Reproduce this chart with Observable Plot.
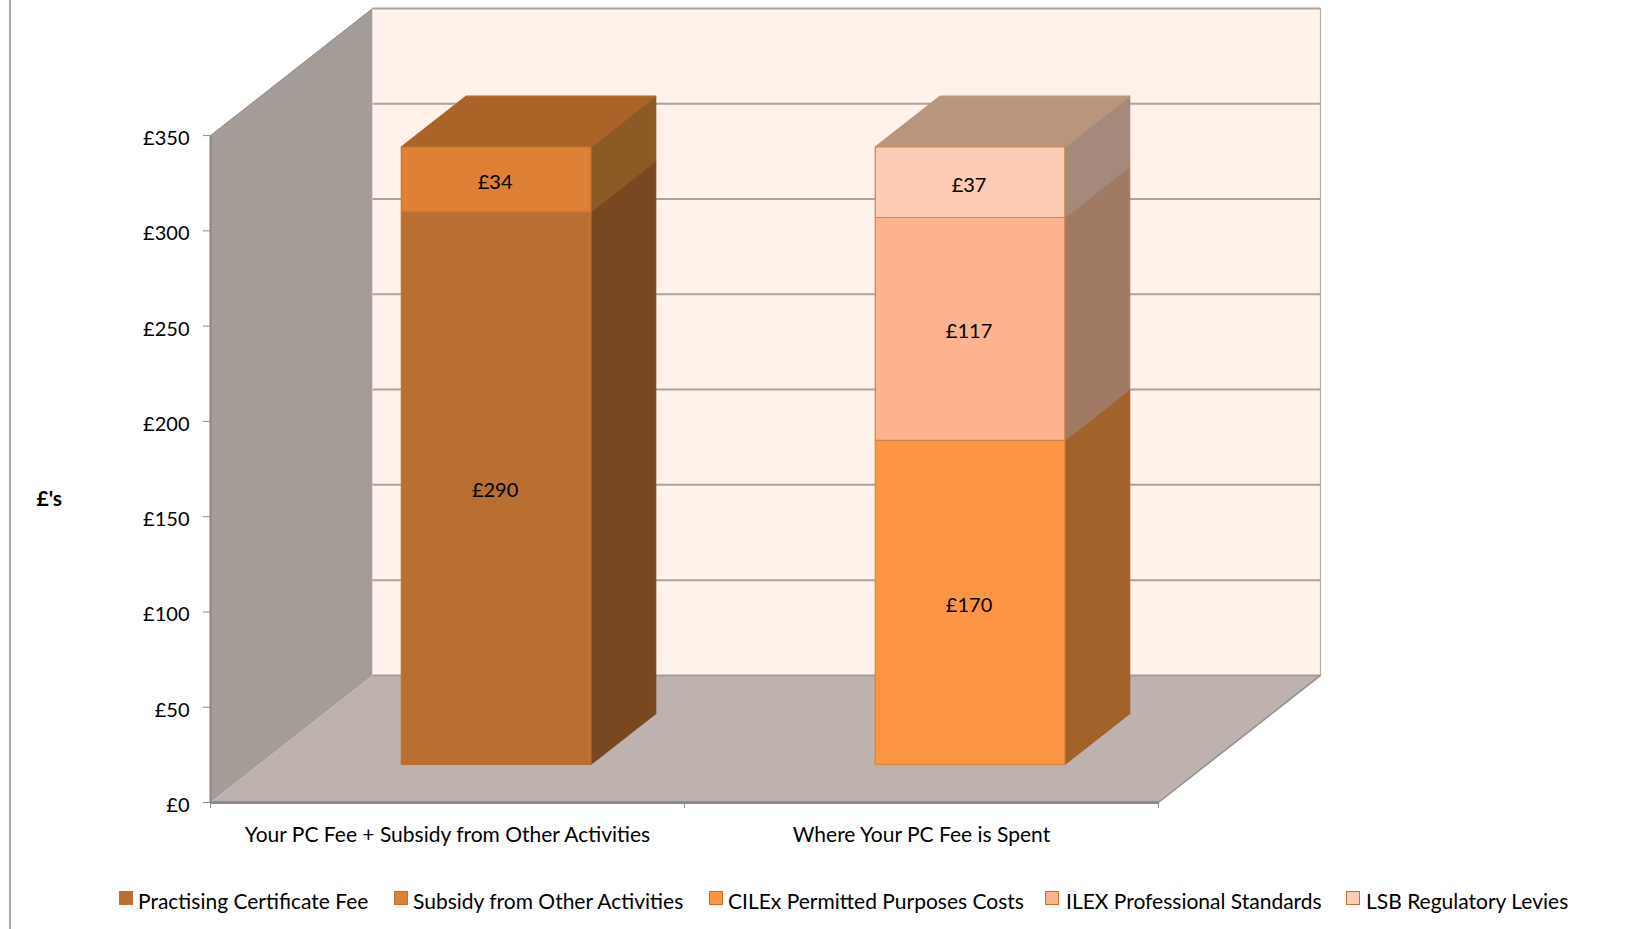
<!DOCTYPE html>
<html>
<head>
<meta charset="utf-8">
<script src="https://cdn.jsdelivr.net/npm/d3@7"></script>
<script src="https://cdn.jsdelivr.net/npm/@observablehq/plot@0.6"></script>
<style>
  html, body { margin: 0; padding: 0; background: #fff; }
  #page { position: relative; width: 1647px; height: 929px; overflow: hidden; font-family: Lato, sans-serif; color: #000; }
  #frame { position: absolute; left: 9px; top: 0; bottom: 0; width: 2px; background: #a9a9a9; }
  #chart svg { display: block; }
  #legend { position: absolute; top: 888px; left: 0; height: 26px; width: 1647px; font-size: 21px; line-height: 26px; }
  #legend .item { position: absolute; top: 0; white-space: nowrap; }
  #legend .swatch { position: absolute; left: 0; top: 3px; width: 12px; height: 12px; border: 1.5px solid #c0712f; box-sizing: content-box; }
  #legend .name { position: absolute; top: 0; }
</style>
</head>
<body>
<div id="page">
  <div id="chart"></div>
  <div id="frame"></div>
  <div id="legend"></div>
</div>
<script>
// ---- data ----
const categories = ["Your PC Fee + Subsidy from Other Activities", "Where Your PC Fee is Spent"];
const seriesNames = ["Practising Certificate Fee", "Subsidy from Other Activities", "CILEx Permitted Purposes Costs", "ILEX Professional Standards", "LSB Regulatory Levies"];
const practisingFee = [290, 0];
const subsidy = [34, 0];
const permittedCosts = [0, 170];
const professionalStandards = [0, 117];
const regulatoryLevies = [0, 37];
const seriesValues = [practisingFee, subsidy, permittedCosts, professionalStandards, regulatoryLevies];
const yTicks = [0, 50, 100, 150, 200, 250, 300, 350];
// colours: front face, side face, top face, front edge
const frontColors = ["#b96f31", "#de8136", "#fd9644", "#fdb48e", "#fdccb4"];
const sideColors = ["#7a4820", "#8b5a25", "#a2622a", "#a07a62", "#a58a7c"];
const topColors = ["#ab6428", "#ab6428", "#b8957c", "#b8957c", "#b8957c"];
const edgeColors = ["#bd7230", "#c9752f", "#d98436", "#cc8544", "#cc8544"];

// ---- oblique projection of the 3-D box onto Plot's x / y scales ----
const depthX = 0.342;   // category units shifted per full depth
const depthY = 66.7;    // £ units shifted per full depth
const yTop = 350;
const barFrom = 0.3, barTo = 0.7;   // bar span inside a category and along depth
const P = (c, v, t) => ({x: c + t * depthX, y: v + t * depthY});
const poly = (id, fill, stroke, corners) => {
  const pts = corners.map(([c, v, t]) => ({id, fill, stroke, ...P(c, v, t)}));
  return [...pts, pts[0]];
};

const n = categories.length;
const walls = [
  ...poly("left", "#a39c97", "none", [[0, 0, 0], [0, yTop, 0], [0, yTop, 1], [0, 0, 1]]),
  ...poly("floor", "#bdb2ad", "none", [[0, 0, 0], [n, 0, 0], [n, 0, 1], [0, 0, 1]]),
  ...poly("back", "#fff2eb", "none", [[0, 0, 1], [n, 0, 1], [n, yTop, 1], [0, yTop, 1]])
];

const sides = [], tops = [], fronts = [], labels = [];
categories.forEach((_, i) => {
  let base = 0, last = -1;
  seriesValues.forEach((vals, s) => {
    const v = vals[i];
    if (!v) return;
    const c0 = i + barFrom, c1 = i + barTo, v1 = base + v;
    sides.push(...poly(`s${i}-${s}`, sideColors[s], sideColors[s], [[c1, base, barFrom], [c1, v1, barFrom], [c1, v1, barTo], [c1, base, barTo]]));
    fronts.push(...poly(`f${i}-${s}`, frontColors[s], edgeColors[s], [[c0, base, barFrom], [c1, base, barFrom], [c1, v1, barFrom], [c0, v1, barFrom]]));
    labels.push({...P((c0 + c1) / 2, base + v / 2, barFrom), text: "£" + v});
    base = v1; last = s;
  });
  const c0 = i + barFrom, c1 = i + barTo;
  tops.push(...poly(`t${i}`, topColors[last], topColors[last], [[c0, base, barFrom], [c1, base, barFrom], [c1, base, barTo], [c0, base, barTo]]));
});

const gridLines = yTicks.slice(1).map(v => ({v, from: P(0, v, 1), to: P(n, v, 1)}));
const shape = d => Plot.line(d, {x: "x", y: "y", z: "id", fill: "fill", stroke: "stroke", strokeWidth: 1.2});
const segment = (a, b, stroke, strokeWidth) =>
  Plot.link([{a, b}], {x1: d => d.a.x, y1: d => d.a.y, x2: d => d.b.x, y2: d => d.b.y, stroke, strokeWidth});

const plot = Plot.plot({
  width: 1647,
  height: 850,
  marginLeft: 210,
  marginRight: 327,
  marginTop: 8,
  marginBottom: 48,
  style: {fontFamily: "Lato, sans-serif", fontSize: "21px", color: "#000", background: "transparent", overflow: "visible"},
  x: {domain: [0, n + depthX]},
  y: {domain: [0, yTop + depthY]},
  marks: [
    shape(walls),
    Plot.link(gridLines, {x1: d => d.from.x, y1: d => d.from.y, x2: d => d.to.x, y2: d => d.to.y, stroke: "#aba29c", strokeWidth: 2}),
    segment(P(0, 0, 1), P(n, 0, 1), "#a69c96", 2),
    segment(P(n, 0, 1), P(n, yTop, 1), "#b3aaa5", 1.2),
    segment(P(0, yTop, 0), P(0, yTop, 1), "#908a86", 1),
    segment(P(n, 0, 0), P(n, 0, 1), "#8f8f8f", 1.5),
    segment(P(0, 0, 0), P(0, yTop, 0), "#8c8783", 2),
    shape(sides),
    shape(tops),
    shape(fronts),
    segment(P(0, 0, 0), P(n, 0, 0), "#8e8c8a", 3),
    Plot.axisY({ticks: yTicks, anchor: "left", label: null, tickSize: 7, stroke: "#8a8a8a", tickFormat: () => ""}),
    Plot.axisY({ticks: yTicks, anchor: "left", label: null, tickSize: 0, tickPadding: 21, dy: 3, fontSize: 20, tickFormat: d => "£" + d, fill: "#000"}),
    Plot.axisX({ticks: [0, 1, 2], anchor: "bottom", label: null, tickSize: 6, tickFormat: () => "", stroke: "#8a8a8a"}),
    Plot.axisX({ticks: [0.5, 1.5], anchor: "bottom", label: null, tickSize: 0, tickPadding: 25, tickFormat: d => categories[Math.floor(d)], fill: "#000", lineWidth: 60}),
    Plot.text(["£'s"], {y: 159, frameAnchor: "left", dx: -174, fontWeight: "bold", fontSize: 21, fill: "#000", textAnchor: "start"}),
    Plot.text(labels, {x: "x", y: "y", text: "text", fill: "#000", fontSize: 20, dy: 3, dx: -1})
  ]
});
document.getElementById("chart").appendChild(plot);

// ---- legend, below the chart ----
const legendLeft = [119, 394, 709, 1045, 1346];
const legendGap = [19, 19, 19, 21, 20];
const legend = d3.select("#legend");
seriesNames.forEach((name, i) => {
  const item = legend.append("div").attr("class", "item").style("left", legendLeft[i] + "px");
  item.append("div").attr("class", "swatch").style("background", frontColors[i]);
  item.append("div").attr("class", "name").style("left", legendGap[i] + "px").text(name);
});
</script>
</body>
</html>
